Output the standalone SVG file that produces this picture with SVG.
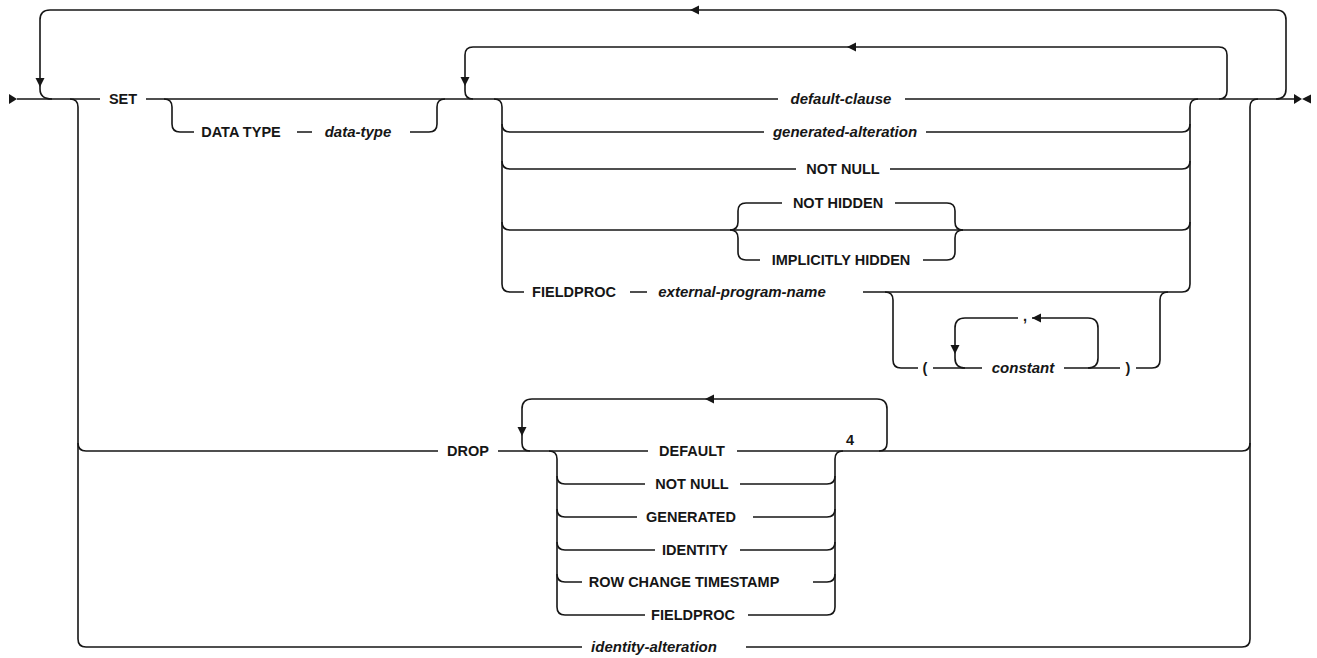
<svg xmlns="http://www.w3.org/2000/svg" width="1317" height="658" viewBox="0 0 1317 658">
<style>
.ln{fill:none;stroke:#161616;stroke-width:1.6;stroke-linecap:butt}
.ah{fill:#161616;stroke:none}
.k{font-family:"Liberation Sans",Arial,sans-serif;font-weight:bold;font-size:14.5px;fill:#161616;text-anchor:middle}
.v{font-family:"Liberation Sans",Arial,sans-serif;font-weight:bold;font-style:italic;font-size:15px;fill:#161616;text-anchor:middle}
</style>
<defs>
<path id="aL" d="M0,0 L9,-4.5 L9,4.5 Z"/>
<path id="aR" d="M0,0 L-8,-5 L-8,5 Z"/>
<path id="aD" d="M0,0 L-4.5,-9 L4.5,-9 Z"/>
</defs>
<rect width="1317" height="658" fill="#ffffff"/>
<g id="connectors">
<use href="#aR" x="17" y="99" class="ah"/>
<use href="#aR" x="1302" y="99" class="ah"/>
<use href="#aL" x="1302" y="99" class="ah"/>
<path class="ln" d="M17 99 H100 M146 99 H778 M905 99 H1295"/>
<path class="ln" d="M52 99 Q40 99 40 89 V20 Q40 10 50 10 H1276 Q1286 10 1286 20 V89 Q1286 99 1276 99"/>
<use href="#aL" x="690" y="10" class="ah"/>
<use href="#aD" x="40" y="87" class="ah"/>
<path class="ln" d="M70 99 Q78 99 78 107 V639 Q78 647 86 647 H582 M746 647 H1242 Q1250 647 1250 639 V107 Q1250 99 1258 99"/>
<path class="ln" d="M78 443 Q78 451 86 451 H438 M498 451 H648 M737 451 H1242 Q1250 451 1250 443"/>
<path class="ln" d="M164 99 Q172 99 172 107 V124 Q172 132 180 132 H194 M297 132 H312 M410 132 H429 Q437 132 437 124 V107 Q437 99 445 99"/>
<path class="ln" d="M473 99 Q465 99 465 91 V55 Q465 47 473 47 H1219 Q1227 47 1227 55 V91 Q1227 99 1219 99"/>
<use href="#aL" x="847" y="47" class="ah"/>
<use href="#aD" x="465" y="86" class="ah"/>
<path class="ln" d="M494 99 Q502 99 502 107 V284 Q502 292 510 292 H524 M630 292 H647 M863 292 H1182 Q1190 292 1190 284 V107 Q1190 99 1198 99"/>
<path class="ln" d="M502 124 Q502 132 510 132 H764 M926 132 H1182 Q1190 132 1190 124"/>
<path class="ln" d="M502 161 Q502 169 510 169 H796 M890 169 H1182 Q1190 169 1190 161"/>
<path class="ln" d="M502 222 Q502 230 510 230 H1182 Q1190 230 1190 222"/>
<path class="ln" d="M730 230 Q738 230 738 222 V211 Q738 203 746 203 H782 M895 203 H947 Q955 203 955 211 V222 Q955 230 963 230"/>
<path class="ln" d="M730 230 Q738 230 738 238 V252 Q738 260 746 260 H760 M923 260 H947 Q955 260 955 252 V238 Q955 230 963 230"/>
<path class="ln" d="M885 292 Q893 292 893 300 V360 Q893 368 901 368 H918 M933 368 H982 M1064 368 H1120 M1136 368 H1152 Q1160 368 1160 360 V300 Q1160 292 1168 292"/>
<path class="ln" d="M965 368 Q955 368 955 358 V328 Q955 318 965 318 H1018 M1032 318 H1088 Q1098 318 1098 328 V358 Q1098 368 1088 368"/>
<use href="#aL" x="1032" y="318" class="ah"/>
<use href="#aD" x="955" y="354" class="ah"/>
<path class="ln" d="M530 451 Q522 451 522 443 V409 Q522 399 532 399 H877 Q887 399 887 409 V443 Q887 451 879 451"/>
<use href="#aL" x="705" y="399" class="ah"/>
<use href="#aD" x="522" y="436" class="ah"/>
<path class="ln" d="M549 451 Q557 451 557 459 V607 Q557 615 565 615 H645 M748 615 H827 Q835 615 835 607 V459 Q835 451 843 451"/>
<path class="ln" d="M557 476 Q557 484 565 484 H645 M740 484 H827 Q835 484 835 476"/>
<path class="ln" d="M557 509 Q557 517 565 517 H637 M753 517 H827 Q835 517 835 509"/>
<path class="ln" d="M557 542 Q557 550 565 550 H655 M740 550 H827 Q835 550 835 542"/>
<path class="ln" d="M557 574 Q557 582 565 582 H582 M813 582 H827 Q835 582 835 574"/>
</g>
<g id="n-set"><text class="k" x="123" y="104">SET</text></g>
<g id="n-datatype-kw"><text class="k" x="241" y="137">DATA TYPE</text></g>
<g id="n-datatype"><text class="v" x="358" y="137">data-type</text></g>
<g id="n-default-clause"><text class="v" x="841" y="104">default-clause</text></g>
<g id="n-generated-alteration"><text class="v" x="845" y="137">generated-alteration</text></g>
<g id="n-notnull"><text class="k" x="843" y="174">NOT NULL</text></g>
<g id="n-nothidden"><text class="k" x="838" y="208">NOT HIDDEN</text></g>
<g id="n-implicitly"><text class="k" x="841" y="265">IMPLICITLY HIDDEN</text></g>
<g id="n-fieldproc"><text class="k" x="574" y="297">FIELDPROC</text></g>
<g id="n-extprog"><text class="v" x="742" y="297">external-program-name</text></g>
<g id="n-lparen"><text class="k" x="925" y="373">(</text></g>
<g id="n-constant"><text class="v" x="1023" y="373">constant</text></g>
<g id="n-comma"><text class="k" x="1025" y="321">,</text></g>
<g id="n-rparen"><text class="k" x="1128" y="373">)</text></g>
<g id="n-drop"><text class="k" x="468" y="456">DROP</text></g>
<g id="n-default"><text class="k" x="692" y="456">DEFAULT</text></g>
<g id="n-four"><text class="k" x="850" y="445">4</text></g>
<g id="n-drop-notnull"><text class="k" x="692" y="489">NOT NULL</text></g>
<g id="n-generated"><text class="k" x="691" y="522">GENERATED</text></g>
<g id="n-identity"><text class="k" x="695" y="555">IDENTITY</text></g>
<g id="n-rowchange"><text class="k" x="684" y="587">ROW CHANGE TIMESTAMP</text></g>
<g id="n-drop-fieldproc"><text class="k" x="693" y="620">FIELDPROC</text></g>
<g id="n-identity-alteration"><text class="v" x="654" y="652">identity-alteration</text></g>
</svg>
